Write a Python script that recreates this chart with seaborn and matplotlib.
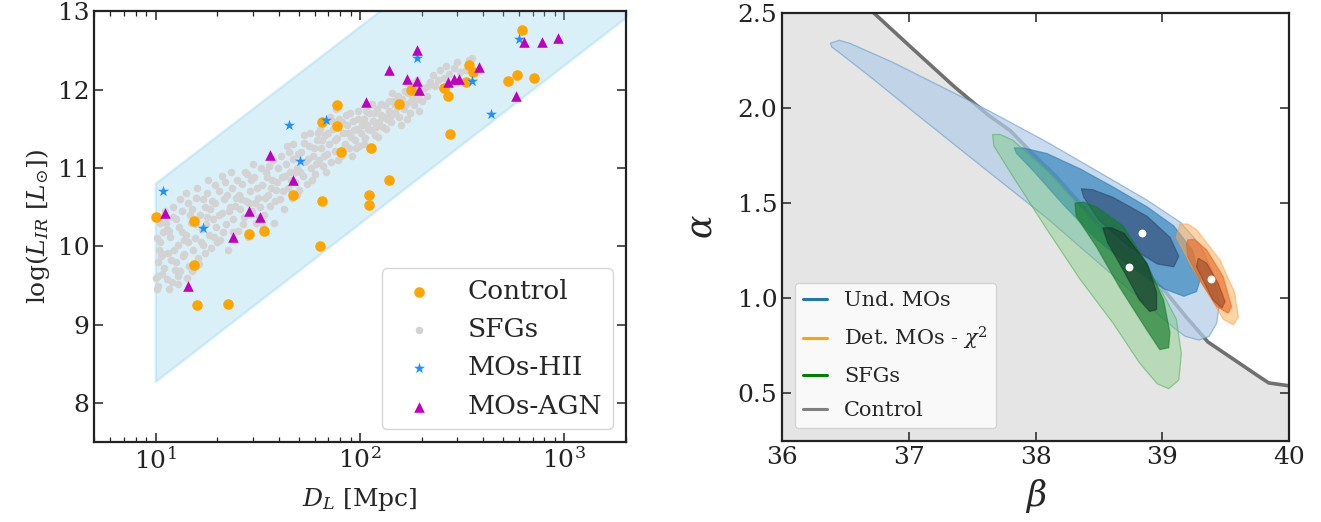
import numpy as np
import pandas as pd
import matplotlib
matplotlib.use("Agg")
import matplotlib.pyplot as plt
from matplotlib.lines import Line2D
import seaborn as sns

# ---------------- data: left panel ----------------
band_D = [10, 2000]
band_lo = [8.27, 12.91]
band_hi = [10.80, 15.40]

control_D = [10.0, 15.3, 28.5, 33.9, 46.7, 65.0, 64.0, 65.0, 77.4, 77.4, 80.5, 113, 111, 111,
             138, 155, 177, 257, 270, 275, 330, 343, 359, 531, 588, 711, 624, 15.3, 16.0, 22.5]
control_L = [10.37, 10.32, 10.16, 10.20, 10.65, 10.58, 10.01, 11.58, 11.80, 11.53, 11.20, 11.25, 10.65, 10.53,
             10.84, 11.82, 11.99, 12.02, 11.92, 11.43, 12.09, 12.31, 12.22, 12.11, 12.18, 12.15, 12.76, 9.76, 9.25, 9.27]

hii_D = [10.8, 17.1, 44.7, 50.9, 68.4, 190, 352, 437, 603]
hii_L = [10.70, 10.23, 11.55, 11.09, 11.61, 12.40, 12.11, 11.69, 12.65]

agn_D = [11.1, 28.5, 32.5, 24.0, 36.4, 47.0, 107, 138, 169, 190, 190, 195, 269, 288, 306, 384,
         581, 635, 776, 934, 14.4]
agn_L = [10.42, 10.45, 10.38, 10.12, 11.16, 10.84, 11.84, 12.25, 12.13, 12.50, 12.11, 12.00, 12.09, 12.13,
         12.14, 12.29, 11.92, 12.61, 12.61, 12.66, 9.50]

sfg_D = [10.1, 10.2, 10.3, 10.4, 10.5, 10.8, 11.0, 11.2, 11.5, 11.8, 12.0, 12.2,
         12.5, 12.8, 13.0, 13.2, 13.5, 13.8, 14.0, 14.3, 14.6, 14.9,
         15.2, 15.5, 15.8, 16.1, 16.4, 16.8, 17.1, 17.5, 17.9, 18.3, 18.7, 19.0,
         19.4, 19.8, 20.3, 20.7, 21.2, 21.6, 22.1, 22.6, 23.0, 23.5, 24.0, 24.6,
         25.2, 25.8, 26.4, 27.0, 27.6, 28.2, 28.9, 29.5, 30.2, 30.9, 31.6,
         32.3, 33.0, 33.8, 34.5, 35.3, 36.1, 36.9, 37.8, 38.6, 39.5,
         40.4, 41.3, 42.2, 43.2, 44.2, 45.2, 46.2, 47.2, 48.3, 49.4,
         50.5, 51.6, 52.8, 54.0, 55.2, 56.5, 57.8, 59.1, 60.4, 61.8, 63.2,
         64.6, 66.1, 67.6, 69.1, 70.7, 72.3, 74.0, 75.6, 77.3, 79.1,
         80.9, 82.7, 84.6, 86.5, 88.5, 90.5, 92.6, 94.7, 96.8, 99.0,
         101, 104, 106, 108, 111, 113, 116, 119, 121, 124,
         127, 130, 133, 136, 139, 142, 146, 149, 152, 156,
         160, 164, 168, 171, 175, 179, 184, 188, 193, 197,
         205, 212, 220, 232, 245, 258, 272, 290, 310, 340,
         10.6, 11.4, 12.4, 13.7, 15.0, 16.2, 17.6, 18.9, 20.0, 21.9, 23.8, 26.1, 27.9,
         30.5, 33.6, 35.8, 38.2, 41.8, 44.8, 48.9, 53.4, 58.5, 62.4, 68.3, 73.1, 78.2,
         85.6, 91.5, 97.9, 105, 114, 123, 134, 144, 158, 170, 182, 195,
         10.0, 10.1, 10.3, 10.5, 10.7, 10.9, 11.1, 11.3, 11.6, 11.9, 12.1, 12.3, 12.6, 12.9, 13.1,
         13.4, 13.6, 14.1, 14.4, 14.7, 15.1, 15.6, 16.0, 16.6, 17.0, 17.4, 17.8, 18.1, 18.5, 19.2, 19.6,
         20.5, 21.0, 21.4, 22.3, 22.8, 23.3, 24.3, 24.9, 25.5, 26.7, 27.3, 28.5, 29.2, 29.9,
         31.2, 32.0, 32.7, 34.1, 34.9, 36.5, 37.3, 39.0, 40.9, 42.7, 43.7, 45.7, 46.7, 47.8, 49.9,
         51.0, 53.2, 55.8, 57.1, 59.8, 61.1, 64.0, 65.4, 66.8, 70.0, 71.5, 75.0, 76.5, 81.8, 83.6,
         87.5, 89.5, 93.6, 95.7, 98.0,
         102, 107, 110, 117, 120, 126, 131, 138, 141, 148, 154, 162, 166, 177, 186, 190, 200,
         215, 228, 240, 265, 300, 330, 355, 11.6, 12.8, 14.2]
sfg_L = [9.45, 9.62, 9.80, 9.95, 10.05, 10.18, 9.72, 10.30, 9.92, 10.12, 9.55, 10.38,
         9.80, 10.02, 10.25, 9.68, 10.45, 9.90, 10.15, 10.55, 9.75, 10.30,
         9.95, 10.10, 10.62, 9.85, 10.40, 10.22, 10.02, 10.50, 10.68, 10.15, 9.98, 10.35,
         10.55, 10.25, 10.70, 10.08, 10.42, 10.60, 10.28, 9.95, 10.50, 10.75, 10.35, 10.62,
         10.20, 10.48, 10.80, 10.38, 10.58, 10.12, 10.70, 10.45, 10.88, 10.30, 10.62,
         10.50, 10.78, 10.40, 10.95, 10.65, 10.52, 10.85, 10.30, 10.72, 11.00,
         10.60, 10.88, 10.48, 11.05, 10.75, 10.95, 10.62, 11.12, 10.82, 11.00,
         10.72, 11.20, 10.90, 11.08, 10.80, 11.28, 11.00, 11.15, 10.92, 11.35, 11.10,
         11.25, 11.02, 11.42, 11.18, 11.30, 11.08, 11.50, 11.22, 11.38, 11.62,
         11.15, 11.45, 11.30, 11.55, 11.25, 11.40, 11.60, 11.35, 11.50, 11.28,
         11.45, 11.62, 11.38, 11.55, 11.70, 11.48, 11.60, 11.42, 11.75, 11.58,
         11.68, 11.52, 11.80, 11.62, 11.72, 11.58, 11.85, 11.70, 11.78, 11.65,
         11.88, 11.75, 11.82, 11.95, 11.70, 11.90, 11.80, 12.00, 11.88, 11.95,
         12.02, 11.92, 12.10, 12.05, 12.25, 12.15, 12.20, 12.28, 12.22, 12.38,
         9.88, 10.22, 9.70, 10.08, 10.48, 9.78, 10.28, 10.58, 10.05, 10.82, 10.18, 10.60, 10.92,
         10.55, 10.25, 11.02, 10.58, 10.70, 11.20, 10.65, 11.32, 10.85, 11.45, 10.95, 11.60, 11.10,
         11.68, 11.15, 11.72, 11.30, 11.82, 11.40, 11.50, 11.95, 11.55, 11.62, 12.08, 11.72,
         9.60, 10.10, 9.50, 10.30, 9.65, 9.90, 10.45, 9.58, 10.20, 9.82, 10.50, 9.95, 10.35, 9.62, 10.60,
         10.18, 9.88, 10.68, 10.05, 10.40, 9.68, 10.28, 10.75, 10.05, 10.60, 9.92, 10.38, 10.85, 10.48, 10.12, 10.78,
         10.40, 10.90, 10.18, 10.65, 10.45, 10.95, 10.52, 10.85, 10.65, 10.28, 10.95, 10.55, 10.85, 11.05,
         10.75, 10.38, 11.00, 10.62, 10.88, 10.75, 11.10, 10.82, 11.15, 10.90, 11.28, 10.85, 11.30, 10.95, 11.18,
         10.95, 11.42, 11.12, 11.45, 11.25, 11.05, 11.50, 11.35, 11.15, 11.45, 11.65, 11.35, 11.75, 11.58, 11.25,
         11.45, 11.70, 11.48, 11.25, 11.62,
         11.55, 11.72, 11.50, 11.70, 11.52, 11.82, 11.65, 11.85, 11.68, 11.80, 11.92, 11.82, 11.98, 11.85, 11.92, 12.12, 11.85,
         12.05, 12.18, 12.12, 12.30, 12.35, 12.25, 12.40, 9.46, 9.52, 9.60]

# ---------------- data: right panel ----------------
ctrl_beta = [36.0, 36.35, 36.72, 37.03, 37.36, 37.63, 37.80, 37.96, 38.16, 38.36, 38.56, 38.80,
             39.03, 39.19, 39.36, 39.56, 39.76, 39.84, 40.0]
ctrl_alpha = [2.95, 2.72, 2.50, 2.31, 2.11, 1.96, 1.88, 1.77, 1.64, 1.49, 1.33, 1.18,
              1.03, 0.90, 0.77, 0.68, 0.59, 0.555, 0.54]

und_outer_beta = [36.38, 36.45, 36.53, 36.87, 37.20, 37.53, 37.77, 38.09, 38.48, 38.88, 39.14, 39.30,
                  39.40, 39.45, 39.43, 39.37, 39.29, 39.18, 39.09, 38.88, 38.61, 38.35, 38.09, 37.56,
                  37.09, 36.70, 36.47, 36.39]
und_outer_alpha = [2.34, 2.355, 2.34, 2.24, 2.13, 2.02, 1.935, 1.82, 1.67, 1.515, 1.40, 1.28,
                   1.13, 0.97, 0.87, 0.80, 0.78, 0.80, 0.845, 0.965, 1.12, 1.27, 1.42, 1.70,
                   1.95, 2.16, 2.28, 2.32]
und_mid_beta = [37.83, 37.90, 38.09, 38.35, 38.61, 38.88, 39.09, 39.24, 39.30, 39.27, 39.17, 39.01,
                38.74, 38.48, 38.22, 37.98, 37.85]
und_mid_alpha = [1.79, 1.79, 1.76, 1.68, 1.585, 1.48, 1.38, 1.25, 1.10, 1.035, 1.01, 1.05,
                 1.17, 1.31, 1.49, 1.67, 1.76]
und_in_beta = [38.36, 38.45, 38.61, 38.88, 39.06, 39.13, 39.09, 38.96, 38.74, 38.50, 38.38]
und_in_alpha = [1.575, 1.57, 1.53, 1.43, 1.32, 1.22, 1.165, 1.18, 1.27, 1.41, 1.53]

sfg_outer_beta = [37.66, 37.72, 37.82, 38.09, 38.35, 38.61, 38.82, 39.00, 39.11, 39.15, 39.13, 39.05,
                  38.96, 38.82, 38.61, 38.35, 38.09, 37.82, 37.67]
sfg_outer_alpha = [1.86, 1.86, 1.83, 1.67, 1.48, 1.31, 1.18, 1.03, 0.89, 0.71, 0.57, 0.525,
                   0.55, 0.66, 0.87, 1.10, 1.36, 1.64, 1.80]
sfg_mid_beta = [38.31, 38.38, 38.48, 38.69, 38.88, 39.01, 39.06, 39.05, 38.98, 38.88, 38.66, 38.48, 38.32]
sfg_mid_alpha = [1.50, 1.505, 1.48, 1.38, 1.18, 0.99, 0.82, 0.74, 0.73, 0.83, 1.06, 1.27, 1.43]
sfg_in_beta = [38.53, 38.60, 38.70, 38.88, 38.955, 38.955, 38.90, 38.82, 38.69, 38.57]
sfg_in_alpha = [1.37, 1.37, 1.34, 1.18, 1.03, 0.94, 0.93, 0.99, 1.15, 1.29]

det_outer_beta = [39.14, 39.20, 39.27, 39.455, 39.57, 39.60, 39.56, 39.48, 39.375, 39.22, 39.11]
det_outer_alpha = [1.39, 1.39, 1.36, 1.20, 1.03, 0.90, 0.86, 0.89, 1.01, 1.18, 1.32]
det_mid_beta = [39.20, 39.25, 39.35, 39.48, 39.547, 39.52, 39.43, 39.31, 39.20, 39.19]
det_mid_alpha = [1.306, 1.31, 1.254, 1.113, 0.956, 0.921, 0.956, 1.079, 1.219, 1.28]
det_in_beta = [39.283, 39.35, 39.44, 39.495, 39.47, 39.40, 39.32, 39.27]
det_in_alpha = [1.21, 1.184, 1.079, 0.982, 0.948, 0.991, 1.096, 1.166]

best_beta = [38.84, 38.74, 39.385]
best_alpha = [1.34, 1.165, 1.099]

# ---------------- style ----------------
sns.set_theme(style="ticks")
plt.rcParams["font.family"] = ["DejaVu Serif"]
plt.rcParams["mathtext.fontset"] = "dejavuserif"
plt.rcParams.update({
    "xtick.direction": "in", "ytick.direction": "in",
    "xtick.top": True, "ytick.right": True,
    "xtick.major.size": 6.5, "ytick.major.size": 6.5,
    "xtick.minor.size": 3.5, "ytick.minor.size": 3.5,
    "xtick.major.width": 1.1, "ytick.major.width": 1.1,
    "xtick.minor.width": 0.9, "ytick.minor.width": 0.9,
    "axes.linewidth": 1.6, "axes.edgecolor": "#222222",
    "xtick.color": "#222222", "ytick.color": "#222222",
    "xtick.labelsize": 18, "ytick.labelsize": 18,
})

fig = plt.figure(figsize=(13.21, 5.22), dpi=100)
ax1 = fig.add_axes([0.0714, 0.1527, 0.4023, 0.826])
ax2 = fig.add_axes([0.5922, 0.1552, 0.3836, 0.8205])

# ---------------- left panel ----------------
ax1.set_xscale("log")
ax1.fill_between(band_D, band_lo, band_hi, color="skyblue", alpha=0.3, lw=1.8, zorder=1)
sns.scatterplot(x=sfg_D, y=sfg_L, ax=ax1, color="lightgray", s=30, linewidth=0, marker="o",
                label="SFGs", zorder=2)
sns.scatterplot(x=control_D, y=control_L, ax=ax1, color="orange", s=58, linewidth=0, marker="o",
                label="Control", zorder=3)
sns.scatterplot(x=hii_D, y=hii_L, ax=ax1, color="dodgerblue", s=70, linewidth=0, marker="*",
                label="MOs-HII", zorder=4)
sns.scatterplot(x=agn_D, y=agn_L, ax=ax1, color="#bf00bf", s=58, linewidth=0, marker="^",
                label="MOs-AGN", zorder=5)
ax1.set_xlim(5, 2000)
ax1.set_ylim(7.5, 13)
ax1.set_yticks([8, 9, 10, 11, 12, 13])
ax1.tick_params(axis="y", which="minor", left=False, right=False)
ax1.set_xlabel(r"$D_L$ [Mpc]", fontsize=18, labelpad=9)
ax1.set_ylabel(r"log($L_{IR}$ [$L_{\odot}$])", fontsize=18)
h, l = ax1.get_legend_handles_labels()
order = [l.index(k) for k in ["Control", "SFGs", "MOs-HII", "MOs-AGN"]]
ax1.legend([h[i] for i in order], [l[i] for i in order], loc="lower right",
           fontsize=19, frameon=True, fancybox=True,
           labelspacing=0.5, handletextpad=0.85)

# ---------------- right panel ----------------
ax2.fill_between(ctrl_beta, 0, ctrl_alpha, color="gray", alpha=0.2, lw=0, zorder=0)
sns.lineplot(x=ctrl_beta, y=ctrl_alpha, ax=ax2, color="#707070", lw=2.6, sort=False,
             estimator=None, legend=False, zorder=1)

layers = [
    (und_outer_beta, und_outer_alpha, "#b3cde8", 0.72, "#5b93c4"),
    (und_mid_beta, und_mid_alpha, "#1f77b4", 0.6, "#1f77b4"),
    (und_in_beta, und_in_alpha, "#28406a", 0.55, "#28406a"),
    (sfg_outer_beta, sfg_outer_alpha, "#64c864", 0.35, "#4caf50"),
    (sfg_mid_beta, sfg_mid_alpha, "#147828", 0.65, "#147828"),
    (sfg_in_beta, sfg_in_alpha, "#143228", 0.6, "#143228"),
    (det_outer_beta, det_outer_alpha, "#ffaa50", 0.5, "#ffa040"),
    (det_mid_beta, det_mid_alpha, "#e6641e", 0.6, "#e6641e"),
    (det_in_beta, det_in_alpha, "#8c3c1e", 0.5, "#8c3c1e"),
]
for k, (bx, ay, c, a, ec) in enumerate(layers):
    ax2.fill(bx, ay, facecolor=c, alpha=a, edgecolor="none", zorder=2 + k)
    ax2.fill(bx, ay, facecolor="none", edgecolor=ec, alpha=0.55, lw=0.9, zorder=2 + k)

sns.scatterplot(x=best_beta, y=best_alpha, ax=ax2, color="white", s=32, linewidth=0, zorder=20,
                legend=False)

ax2.set_xlim(36, 40)
ax2.set_ylim(0.25, 2.5)
ax2.set_xticks([36, 37, 38, 39, 40])
ax2.set_yticks([0.5, 1.0, 1.5, 2.0, 2.5])
ax2.set_xlabel(r"$\beta$", fontsize=25, labelpad=6)
ax2.set_ylabel(r"$\alpha$", fontsize=25, labelpad=14)

leg_handles = [Line2D([], [], color="#1f77b4", lw=2.2),
               Line2D([], [], color="orange", lw=2.2),
               Line2D([], [], color="green", lw=2.2),
               Line2D([], [], color="gray", lw=2.2)]
leg_labels = ["Und. MOs", r"Det. MOs - $\chi^2$", "SFGs", "Control"]
ax2.legend(leg_handles, leg_labels, loc="lower left", fontsize=15, handlelength=1.15,
           frameon=True, fancybox=True, borderaxespad=0.6, labelspacing=0.72)

fig.savefig("out.png", dpi=100)
